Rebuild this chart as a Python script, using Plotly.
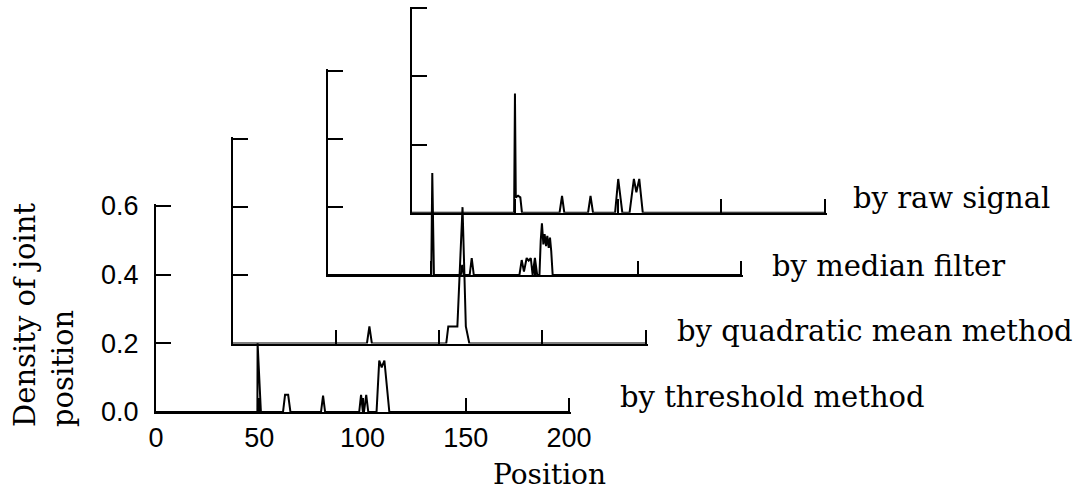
import plotly.graph_objects as go

# ---------------- data (position, density) ----------------
thr_x = [0, 49.1, 49.2, 50.3, 50.8, 61.5, 62.5, 64.0, 65.1, 79.9, 80.9, 81.9,
         98.4, 99.3, 100.2, 100.7, 101.8, 102.8, 106.8, 108.1, 109.3, 110.6, 113.0, 200]
thr_y = [0, 0, 0.20, 0.03, 0, 0, 0.05, 0.05, 0, 0, 0.048, 0,
         0, 0.05, 0, 0, 0.05, 0, 0, 0.15, 0.13, 0.15, 0, 0]

quad_x = [0, 65.0, 66.2, 67.4, 103.4, 104.4, 108.8, 111.3, 112.9, 114.6, 200]
quad_y = [0, 0, 0.05, 0, 0, 0.05, 0.05, 0.40, 0.05, 0, 0]

med_x = [0, 50.0, 50.5, 50.9, 51.3, 64.3, 65.0, 65.7, 68.6, 69.6, 70.6,
         92.7, 93.8, 94.9, 96.2, 97.2, 98.2, 99.1, 100.2, 101.3, 102.4,
         103.0, 103.6, 104.3, 104.9, 105.6, 106.2, 106.9, 107.5, 108.1, 108.8, 200]
med_y = [0, 0, 0.30, 0.04, 0, 0, 0.03, 0, 0, 0.05, 0,
         0, 0.044, 0.01, 0.05, 0.042, 0.05, 0, 0.05, 0, 0,
         0.10, 0.152, 0.09, 0.12, 0.085, 0.115, 0.08, 0.11, 0.07, 0, 0]

raw_x = [0, 49.6, 50.0, 50.4, 51.5, 52.6, 53.4, 71.6, 72.8, 73.9, 85.4, 86.6, 87.8,
         98.5, 100.0, 102.0, 105.5, 107.6, 108.8, 110.2, 111.9, 200]
raw_y = [0, 0, 0.35, 0.045, 0.05, 0.045, 0, 0, 0.049, 0, 0, 0.049, 0,
         0, 0.099, 0, 0, 0.099, 0.06, 0.099, 0, 0]

series_names = ["by threshold method", "by quadratic mean method",
                "by median filter", "by raw signal"]
series_x = [thr_x, quad_x, med_x, raw_x]
series_y = [thr_y, quad_y, med_y, raw_y]

x_ticks = [0, 50, 100, 150, 200]
y_ticks = [0.0, 0.2, 0.4, 0.6]
y_tick_text = ["0.0", "0.2", "0.4", "0.6"]
X_MAX, Y_MAX = 200, 0.6

# ---------------- layout geometry (pixels) ----------------
W, H = 1082, 490
PANEL_W = 413          # pixels from position 0 to position 200
PAD_X = 1.005          # range a hair beyond the last tick so end ticks are drawn
PAD_Y = 1.008
# (left px, baseline px, top px, label left px, label centre px)
geom = [
    (156.0, 412.0, 206.0, 618, 397),
    (232.7, 343.5, 139.0, 675, 331),
    (328.0, 275.0, 71.0, 770, 266),
    (411.7, 212.7, 8.3, 851, 198),
]

SERIF = "DejaVu Serif"
SANS = "Liberation Sans"

fig = go.Figure()
layout = dict(
    width=W, height=H, autosize=False,
    margin=dict(l=0, r=0, t=0, b=0, pad=0, autoexpand=False),
    paper_bgcolor="white", plot_bgcolor="rgba(0,0,0,0)",
    showlegend=False,
)
annotations = []

for i, (name, xs, ys) in enumerate(zip(series_names, series_x, series_y)):
    k = "" if i == 0 else str(i + 1)
    x0, base, top, lx, ly = geom[i]
    fig.add_trace(go.Scatter(
        x=xs, y=ys, mode="lines", name=name,
        line=dict(color="black", width=2),
        xaxis="x" + k, yaxis="y" + k, hoverinfo="skip",
    ))
    layout["xaxis" + k] = dict(
        domain=[x0 / W, (x0 + PANEL_W * PAD_X) / W], range=[0, X_MAX * PAD_X],
        anchor="y" + k, showline=True, linecolor="black", linewidth=2,
        ticks="inside", ticklen=14, tickwidth=2, tickcolor="black",
        tickvals=x_ticks, showticklabels=(i == 0),
        ticklabelstandoff=1, automargin=False,
        tickfont=dict(family=SANS, size=27, color="black"),
        showgrid=False, zeroline=False, fixedrange=True,
    )
    layout["yaxis" + k] = dict(
        domain=[1 - base / H, 1 - (base - (base - top) * PAD_Y) / H],
        range=[0, Y_MAX * PAD_Y],
        anchor="x" + k, showline=True, linecolor="black", linewidth=2,
        ticks="inside", ticklen=15, tickwidth=2, tickcolor="black",
        tickvals=y_ticks, ticktext=y_tick_text, showticklabels=(i == 0),
        ticklabelstandoff=10, automargin=False,
        tickfont=dict(family=SANS, size=27, color="black"),
        showgrid=False, zeroline=False, fixedrange=True,
    )
    annotations.append(dict(
        text=name, xref="paper", yref="paper",
        x=lx / W, y=1 - ly / H, xanchor="left", yanchor="middle",
        showarrow=False, font=dict(family=SERIF, size=29, color="black"),
    ))

annotations.append(dict(
    text="Position", xref="paper", yref="paper",
    x=549 / W, y=1 - 474 / H, xanchor="center", yanchor="middle",
    showarrow=False, font=dict(family=SERIF, size=28, color="black"),
))
annotations.append(dict(
    text="Density of joint<br>position", xref="paper", yref="paper",
    x=44 / W, y=1 - 429 / H, xanchor="center", yanchor="bottom",
    textangle=-90, align="left",
    showarrow=False, font=dict(family=SERIF, size=29, color="black"),
))
layout["annotations"] = annotations
fig.update_layout(**layout)
fig.write_html(
    "out.html",
    config={"displayModeBar": False},
    post_script="document.body.style.margin='0px';document.body.style.overflow='hidden';",
)
